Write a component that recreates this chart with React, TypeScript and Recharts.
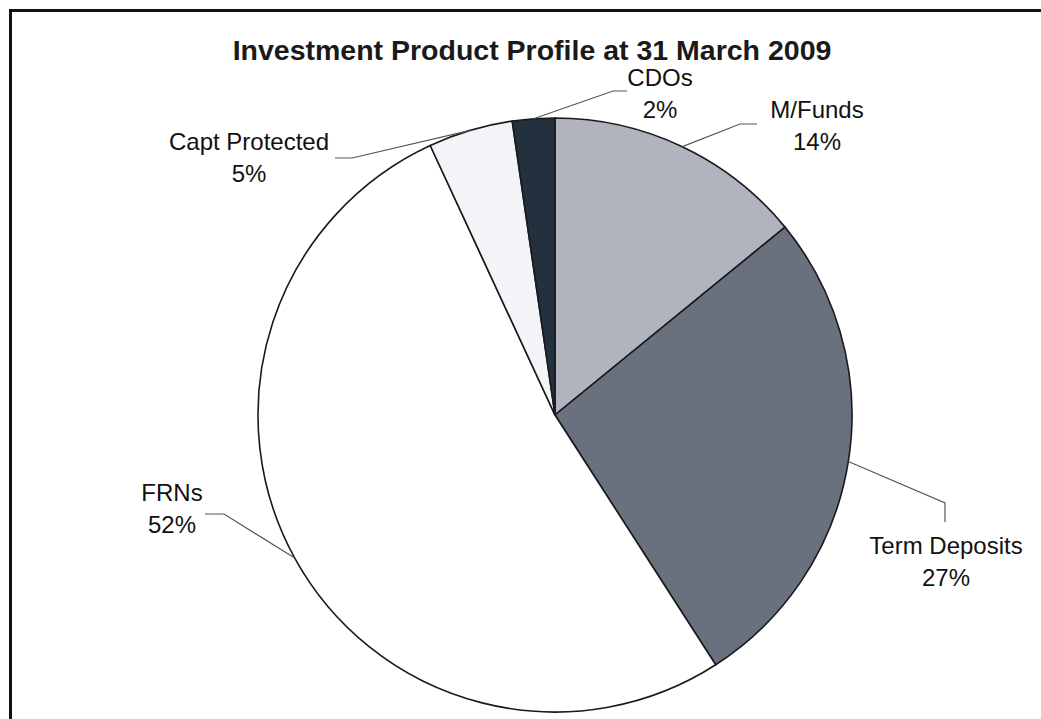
import React from "react";
import { PieChart, Pie, Cell } from "recharts";

const categories = ["M/Funds", "Term Deposits", "FRNs", "Capt Protected", "CDOs"];
const shares = [14.1, 26.8, 52.2, 4.6, 2.3];
const colors = ["#b1b4be", "#6a717e", "#ffffff", "#f3f4f7", "#23303d"];
const chartTitle = "Investment Product Profile at 31 March 2009";

const data = categories.map((name, i) => ({ name, value: shares[i] }));

// Label layout, relative to the pie centre: elbow point, end point, text centre/baseline
const labelLayout = [
  { ex: 185, ey: -291, tx: 202, ty: -291, ax: 262, ay: -297 },
  { ex: 390, ey: 88, tx: 390, ty: 107, ax: 391, ay: 139 },
  { ex: -331, ey: 99, tx: -350, ty: 99, ax: -383, ay: 86 },
  { ex: -203, ey: -257, tx: -220, ty: -257, ax: -306, ay: -265 },
  { ex: 58, ey: -324, tx: 72, ty: -324, ax: 105, ay: -329 },
];

const RAD = Math.PI / 180;

const renderLabel = (props: any) => {
  const { cx, cy, midAngle, outerRadius, index, percent, name } = props;
  const L = labelLayout[index];
  const sx = cx + outerRadius * Math.cos(-midAngle * RAD);
  const sy = cy + outerRadius * Math.sin(-midAngle * RAD);
  const ex = cx + L.ex;
  const ey = cy + L.ey;
  const tx = cx + L.tx;
  const ty = cy + L.ty;
  const ax = cx + L.ax;
  const ay = cy + L.ay;
  return (
    <g key={`lbl-${index}`}>
      <polyline
        points={`${sx},${sy} ${ex},${ey} ${tx},${ty}`}
        fill="none"
        stroke="#555"
        strokeWidth={1.2}
      />
      <text
        x={ax}
        y={ay}
        textAnchor="middle"
        fontFamily="'Liberation Sans', Arial, sans-serif"
        fontSize={24}
        fill="#111"
      >
        <tspan x={ax} dy={0}>{name}</tspan>
        <tspan x={ax} dy={32}>{`${Math.round(percent * 100)}%`}</tspan>
      </text>
    </g>
  );
};

export default function App() {
  return (
    <div
      style={{
        position: "absolute",
        left: 0,
        top: 0,
        width: 1041,
        height: 719,
        overflow: "hidden",
        background: "#ffffff",
      }}
    >
      <div
        style={{
          position: "absolute",
          left: 9,
          top: 9,
          width: 1200,
          height: 900,
          borderLeft: "3px solid #111",
          borderTop: "3px solid #111",
        }}
      />
      <div style={{ position: "absolute", left: 0, top: 0 }}>
        <PieChart
          width={1041}
          height={719}
          margin={{ top: 0, right: 0, bottom: 0, left: 0 }}
        >
          <text
            x={532}
            y={60}
            textAnchor="middle"
            fontFamily="'Liberation Sans', Arial, sans-serif"
            fontWeight="bold"
            fontSize={28.5}
            fill="#1a1a1a"
          >
            {chartTitle}
          </text>
          <Pie
            data={data}
            dataKey="value"
            nameKey="name"
            cx={555}
            cy={415}
            outerRadius={297}
            startAngle={90}
            endAngle={-270}
            stroke="#1a1a1a"
            strokeWidth={1.6}
            label={renderLabel}
            labelLine={false}
            isAnimationActive={false}
          >
            {data.map((d, i) => (
              <Cell key={d.name} fill={colors[i]} />
            ))}
          </Pie>
        </PieChart>
      </div>
    </div>
  );
}
